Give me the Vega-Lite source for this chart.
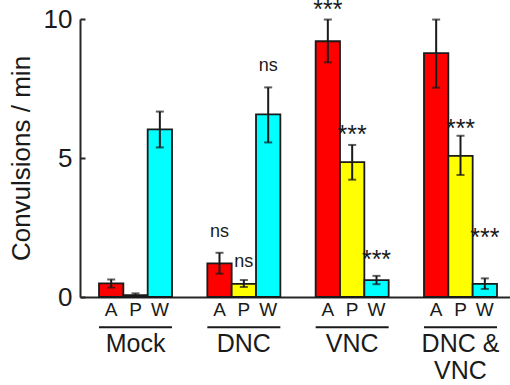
{
  "$schema": "https://vega.github.io/schema/vega-lite/v6.json",
  "width": 430,
  "height": 278,
  "autosize": {"type": "none"},
  "padding": {"left": 80, "top": 19, "right": 0, "bottom": 88},
  "background": "white",
  "config": {"view": {"stroke": null}, "font": "Liberation Sans"},
  "datasets": {
    "bars": [
      {"group": "Mock", "cond": "A", "mean": 0.49, "lo": 0.34, "hi": 0.63, "sig": "", "sig_y": 0},
      {"group": "Mock", "cond": "P", "mean": 0.07, "lo": 0.03, "hi": 0.13, "sig": "", "sig_y": 0},
      {"group": "Mock", "cond": "W", "mean": 6.03, "lo": 5.38, "hi": 6.67, "sig": "", "sig_y": 0},
      {"group": "DNC", "cond": "A", "mean": 1.21, "lo": 0.84, "hi": 1.59, "sig": "ns", "sig_y": 2.15},
      {"group": "DNC", "cond": "P", "mean": 0.47, "lo": 0.36, "hi": 0.61, "sig": "ns", "sig_y": 1.09},
      {"group": "DNC", "cond": "W", "mean": 6.57, "lo": 5.56, "hi": 7.54, "sig": "ns", "sig_y": 8.14},
      {"group": "VNC", "cond": "A", "mean": 9.2, "lo": 8.44, "hi": 9.98, "sig": "***", "sig_y": 10.02},
      {"group": "VNC", "cond": "P", "mean": 4.85, "lo": 4.22, "hi": 5.47, "sig": "***", "sig_y": 5.53},
      {"group": "VNC", "cond": "W", "mean": 0.61, "lo": 0.46, "hi": 0.76, "sig": "***", "sig_y": 1.04},
      {"group": "DNC & VNC", "cond": "A", "mean": 8.77, "lo": 7.53, "hi": 9.98, "sig": "", "sig_y": 0},
      {"group": "DNC & VNC", "cond": "P", "mean": 5.08, "lo": 4.39, "hi": 5.8, "sig": "***", "sig_y": 5.75},
      {"group": "DNC & VNC", "cond": "W", "mean": 0.47, "lo": 0.29, "hi": 0.67, "sig": "***", "sig_y": 1.85}
    ],
    "groups": [
      {"group": "Mock", "label": "Mock"},
      {"group": "DNC", "label": "DNC"},
      {"group": "VNC", "label": "VNC"},
      {"group": "DNC & VNC", "label": "DNC &\nVNC"}
    ]
  },
  "encoding": {
    "x": {
      "field": "group",
      "type": "nominal",
      "scale": {"domain": ["Mock", "DNC", "VNC", "DNC & VNC"], "paddingInner": 0.326, "paddingOuter": 0.1477, "align": 0.594},
      "axis": {"title": null, "labels": false, "ticks": false, "domainColor": "#262626", "domainWidth": 2}
    }
  },
  "layer": [
    {
      "data": {"name": "bars"},
      "mark": {"type": "bar", "stroke": "#1a1a1a", "strokeWidth": 1.8, "opacity": 1},
      "encoding": {
        "xOffset": {"field": "cond", "type": "nominal", "scale": {"domain": ["A", "P", "W"], "paddingInner": 0, "paddingOuter": 0}},
        "y": {
          "field": "mean",
          "type": "quantitative",
          "scale": {"domain": [0, 10], "nice": false},
          "axis": {
            "title": "Convulsions / min",
            "values": [0, 5, 10],
            "grid": false,
            "tickSize": -5,
            "tickWidth": 2,
            "tickColor": "#262626",
            "domainColor": "#262626",
            "domainWidth": 2,
            "labelFontSize": 26,
            "labelColor": "#1a1a1a",
            "labelPadding": 13,
            "titleFontSize": 26,
            "titleFontWeight": "normal",
            "titleColor": "#1a1a1a",
            "titlePadding": 9
          }
        },
        "color": {"field": "cond", "type": "nominal", "scale": {"domain": ["A", "P", "W"], "range": ["#ff0000", "#ffff00", "#00ffff"]}, "legend": null}
      }
    },
    {
      "data": {"name": "bars"},
      "mark": {"type": "rule", "color": "#1a1a1a", "strokeWidth": 2},
      "encoding": {
        "xOffset": {"field": "cond", "type": "nominal"},
        "y": {"field": "lo", "type": "quantitative"},
        "y2": {"field": "hi"}
      }
    },
    {
      "data": {"name": "bars"},
      "mark": {"type": "tick", "color": "#1a1a1a", "size": 8, "thickness": 2},
      "encoding": {
        "xOffset": {"field": "cond", "type": "nominal"},
        "y": {"field": "lo", "type": "quantitative"}
      }
    },
    {
      "data": {"name": "bars"},
      "mark": {"type": "tick", "color": "#1a1a1a", "size": 8, "thickness": 2},
      "encoding": {
        "xOffset": {"field": "cond", "type": "nominal"},
        "y": {"field": "hi", "type": "quantitative"}
      }
    },
    {
      "data": {"name": "bars"},
      "transform": [{"filter": "datum.sig == 'ns'"}],
      "mark": {"type": "text", "fontSize": 18, "color": "#1a1a1a", "baseline": "alphabetic"},
      "encoding": {
        "xOffset": {"field": "cond", "type": "nominal"},
        "y": {"field": "sig_y", "type": "quantitative"},
        "text": {"field": "sig"}
      }
    },
    {
      "data": {"name": "bars"},
      "transform": [{"filter": "datum.sig == '***'"}],
      "mark": {"type": "text", "fontSize": 25, "color": "#1a1a1a", "baseline": "alphabetic"},
      "encoding": {
        "xOffset": {"field": "cond", "type": "nominal"},
        "y": {"field": "sig_y", "type": "quantitative"},
        "text": {"field": "sig"}
      }
    },
    {
      "data": {"name": "bars"},
      "mark": {"type": "text", "fontSize": 19, "color": "#1a1a1a", "baseline": "alphabetic"},
      "encoding": {
        "xOffset": {"field": "cond", "type": "nominal"},
        "y": {"datum": -0.683},
        "text": {"field": "cond"}
      }
    },
    {
      "data": {"name": "groups"},
      "mark": {"type": "rect", "color": "#1a1a1a", "stroke": "#1a1a1a", "strokeWidth": 2},
      "encoding": {
        "y": {"datum": -1.09},
        "y2": {"datum": -1.09}
      }
    },
    {
      "data": {"name": "groups"},
      "mark": {"type": "text", "fontSize": 25, "color": "#1a1a1a", "baseline": "alphabetic", "lineBreak": "\n", "lineHeight": 27},
      "encoding": {
        "y": {"datum": -1.97},
        "text": {"field": "label"}
      }
    }
  ]
}
